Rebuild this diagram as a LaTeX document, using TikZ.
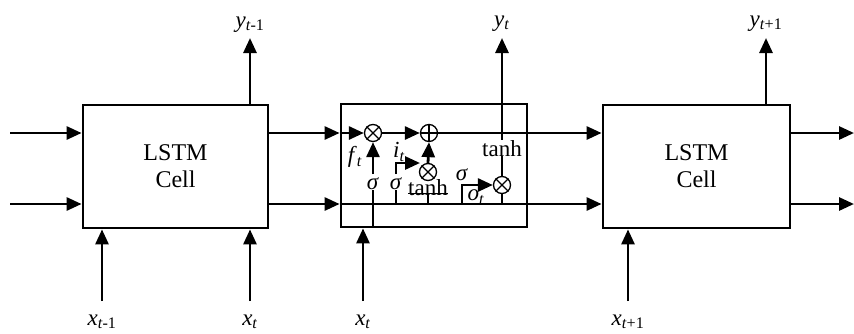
\documentclass[tikz,border=0pt]{standalone}
\usepackage{fontspec}
\setmainfont{Liberation Serif}
\usetikzlibrary{arrows.meta}
\begin{document}
\begin{tikzpicture}[x=1pt,y=-1pt,
  ln/.style={line width=2.8pt},
  arr/.style={line width=2.8pt,-{Triangle[length=15pt,width=13pt]}},
  cell/.style={draw,line width=2.8pt,minimum width=185pt,minimum height=123pt,align=center,inner sep=0pt,font=\fontsize{24}{27}\selectfont},
  op/.style={circle,draw,line width=1.3pt,minimum size=17pt,inner sep=0pt},
  lab/.style={inner sep=0pt,font=\fontsize{23}{26}\selectfont,anchor=base}]
\useasboundingbox (0,0) rectangle (854,333);
% rows
\coordinate (cy) at (0,133);
\coordinate (hy) at (0,204);
% cells
\node[cell] (L) at (175.5,166.5) {LSTM\\Cell};
\node[cell,minimum width=186pt] (M) at (434,165.5) {};
\node[cell,minimum width=187pt] (R) at (696.5,166.5) {LSTM\\Cell};
% left cell
\coordinate (Lin1) at (10,133);
\coordinate (Lin2) at (10,204);
\draw[arr] (Lin1) -- (Lin1 -| L.west);
\draw[arr] (Lin2) -- (Lin2 -| L.west);
\coordinate (Ly) at (250,38);
\draw[arr] (Ly |- L.north) -- (Ly);
\node[lab] (yl) at (250,27) {\textit{y}\textsubscript{\textit{t}-1}};
\coordinate (Lx1) at (102,301);
\coordinate (Lx2) at (250,301);
\draw[arr] (Lx1) -- (Lx1 |- L.south);
\draw[arr] (Lx2) -- (Lx2 |- L.south);
\node[lab] (xl1) at (102,325) {\textit{x}\textsubscript{\textit{t}-1}};
\node[lab] (xl2) at (250,325) {\textit{x}\textsubscript{\textit{t}}};
% left -> middle
\draw[arr] (L.east |- cy) -- (M.west |- cy);
\draw[arr] (L.east |- hy) -- (M.west |- hy);
% middle cell internals
\node[op] (f) at (373,133) {};
\draw[line width=1.3pt] (f.north west) -- (f.south east) (f.north east) -- (f.south west);
\node[op] (a) at (429,133) {};
\draw[line width=1.3pt] (a.north) -- (a.south) (a.west) -- (a.east);
\node[op] (g) at (428,172) {};
\draw[line width=1.3pt] (g.north west) -- (g.south east) (g.north east) -- (g.south west);
\node[op] (o) at (502,185) {};
\draw[line width=1.3pt] (o.north west) -- (o.south east) (o.north east) -- (o.south west);
\draw[arr] (M.west |- cy) -- (f.west);
\draw[arr] (f.east) -- (a.west);
\draw[arr] (a.east) -- (R.west |- cy);
\draw[arr] (M.west |- hy) -- (R.west |- hy);
% forget gate
\node[lab,anchor=center] (sf) at (373,184) {\textit{σ}};
\draw[ln] (sf.south) -- (sf.south |- M.south);
\coordinate (fa) at (373,174);
\draw[arr] (fa) -- (f.south);
\node[lab,anchor=center] (fl) at (355,157) {\textit{f}\textsubscript{\textit{t}}};
% input gate
\node[lab,anchor=center] (si) at (396,184) {\textit{σ}};
\draw[ln] (si.south) -- (si.south |- hy);
\coordinate (ib) at (396,174);
\coordinate (ic) at (420,163);
\draw[arr] (ib) |- (ic);
\node[lab,anchor=center] (il) at (399,152) {\textit{i}\textsubscript{\textit{t}}};
\draw[arr] (g.north) -- (a.south);
\node[lab] (tg) at (428,195) {tanh};
\draw[line width=0.8pt] ([yshift=2pt]tg.base west) -- ([yshift=2pt]tg.base east);
\draw[ln] ([yshift=2pt]tg.base) -- (tg.base |- hy);
% output gate
\node[lab,anchor=center] (so) at (462,175) {\textit{σ}};
\coordinate (ob) at (462,204);
\draw[arr] (ob) |- (o.west);
\node[lab,anchor=center] (ol) at (476,197) {\textit{o}\textsubscript{\textit{t}}};
\draw[ln] (o.south) -- (o.south |- hy);
\node[lab] (tc) at (502,156) {tanh};
\draw[ln] (o.north) -- (tc.south);
\coordinate (My) at (502,38);
\draw[arr] (tc.north) -- (My);
\node[lab] (yt) at (502,26) {\textit{y}\textsubscript{\textit{t}}};
\coordinate (Mx) at (363,301);
\draw[arr] (Mx) -- (Mx |- M.south);
\node[lab] (xt) at (363,325) {\textit{x}\textsubscript{\textit{t}}};
% right cell
\coordinate (Rout1) at (854,133);
\coordinate (Rout2) at (854,204);
\draw[arr] (R.east |- cy) -- (Rout1);
\draw[arr] (R.east |- hy) -- (Rout2);
\coordinate (Ry) at (766,38);
\draw[arr] (Ry |- R.north) -- (Ry);
\node[lab] (yr) at (766,26) {\textit{y}\textsubscript{\textit{t}+1}};
\coordinate (Rx) at (628,301);
\draw[arr] (Rx) -- (Rx |- R.south);
\node[lab] (xr) at (628,325) {\textit{x}\textsubscript{\textit{t}+1}};
\end{tikzpicture}
\end{document}
